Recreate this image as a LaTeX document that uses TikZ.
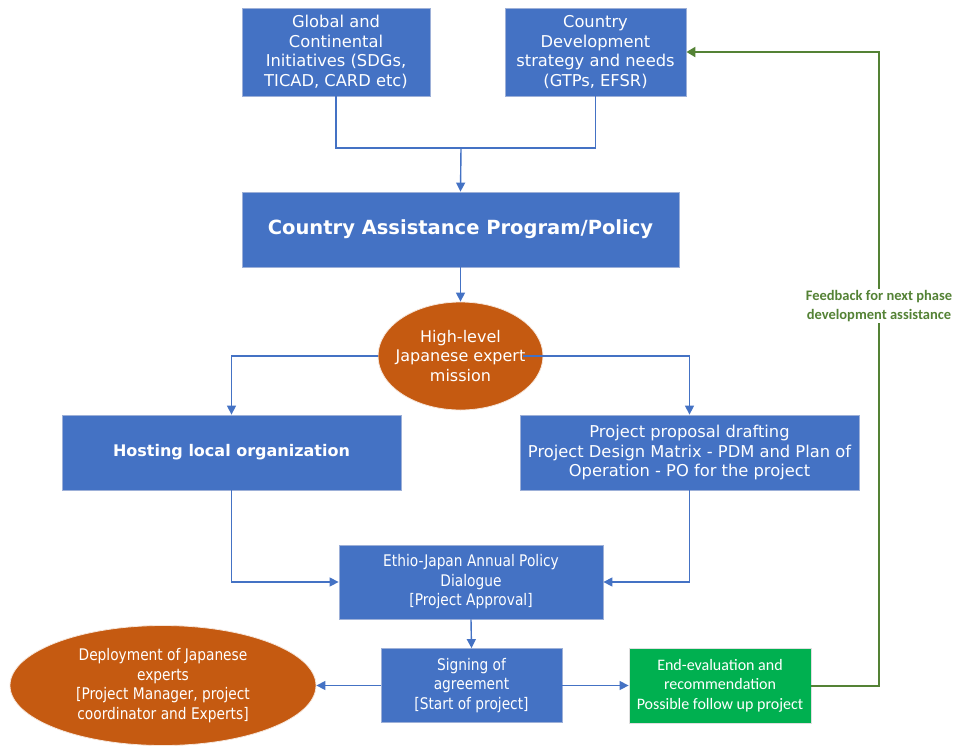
\documentclass[tikz,border=0pt]{standalone}
\usepackage{fontspec}
\usepackage{tikz}
\usetikzlibrary{shapes.geometric,arrows.meta}
\setmainfont{DejaVu Sans}
\newfontfamily\narrowfont{DejaVu Sans}[FakeStretch=0.86]
\newfontfamily\calfont{Carlito}
\definecolor{boxblue}{HTML}{4472C4}
\definecolor{boxedge}{HTML}{9DB0D8}
\definecolor{rust}{HTML}{C55A11}
\definecolor{evalgreen}{HTML}{00B050}
\definecolor{fbgreen}{HTML}{548235}
\tikzset{
  bluebox/.style={rectangle,fill=boxblue,draw=boxedge,line width=0.8pt,text=white,align=center,inner sep=2pt,
    font=\fontsize{16.3}{19.5}\selectfont},
  rustoval/.style={ellipse,fill=rust,draw=white!85!rust,line width=0.8pt,text=white,align=center,
    font=\narrowfont\fontsize{16}{19.5}\selectfont},
  link/.style={draw=boxblue,line width=1.4pt,-{Triangle[length=9pt,width=9pt]}},
  joint/.style={draw=boxblue,line width=1.4pt},
  feedback/.style={draw=fbgreen,line width=2pt,-{Triangle[length=9pt,width=10pt]}}
}
\begin{document}
\begin{tikzpicture}[x=1pt,y=-1pt]
        \useasboundingbox (0,0) rectangle (961,745);
        %inputs
        \node[bluebox,minimum width=188,minimum height=88] (global) at (336,52)
            {Global and\\Continental\\Initiatives (SDGs,\\TICAD, CARD etc)};
        \node[bluebox,minimum width=181,minimum height=88] (country) at (595.5,52)
            {Country\\Development\\strategy and needs\\(GTPs, EFSR)};
        \coordinate (merge) at (461,148);
        %program and mission
        \node[bluebox,minimum width=437,minimum height=75,font=\bfseries\fontsize{19.5}{22}\selectfont] (cap) at (460.5,229.5)
            {Country Assistance Program/Policy};
        \node[rustoval,minimum width=165,minimum height=108,inner xsep=-22pt,inner ysep=-2pt,
            font=\fontsize{16}{19.5}\selectfont] (mission) at (460.5,356)
            {High-level\\Japanese expert\\mission};
        \coordinate (split) at (523,356);
        %two branches
        \node[bluebox,minimum width=339,minimum height=75,font=\bfseries\fontsize{16}{19.5}\selectfont] (host) at (231.5,452.5)
            {Hosting local organization};
        \node[bluebox,minimum width=339,minimum height=75] (proposal) at (689.5,452.5)
            {Project proposal drafting\\Project Design Matrix - PDM and Plan of\\Operation - PO for the project};
        %approval and start
        \node[bluebox,minimum width=264,minimum height=74,font=\narrowfont\fontsize{16}{19.5}\selectfont] (dialogue) at (471,582)
            {Ethio-Japan Annual Policy\\Dialogue\\{[Project Approval]}};
        \node[bluebox,minimum width=181,minimum height=74,font=\narrowfont\fontsize{16}{19.5}\selectfont] (signing) at (471.5,685.5)
            {Signing of\\agreement\\{[Start of project]}};
        \node[rustoval,minimum width=306,minimum height=120] (deploy) at (163,685.5)
            {Deployment of Japanese\\experts\\{[Project Manager, project}\\coordinator and Experts]};
        \node[bluebox,fill=evalgreen,draw=white!75!gray,minimum width=182,minimum height=75,font=\calfont\fontsize{16}{19.5}\selectfont] (evaluation) at (720,685.5)
            {End-evaluation and\\recommendation\\Possible follow up project};
        \coordinate (turn) at (879,685.5);
        %connections
        \draw[joint] (global.south) |- (merge) -| (country.south);
        \draw[link] (merge) -- (cap.north);
        \draw[link] (cap.south) -- (mission.north);
        \draw[link] (mission.west) -| (host.north);
        \draw[link] (split) -| (proposal.north);
        \draw[link] (host.south) |- (dialogue.west);
        \draw[link] (proposal.south) |- (dialogue.east);
        \draw[link] (dialogue.south) -- (signing.north);
        \draw[link] (signing.west) -- (deploy.east);
        \draw[link] (signing.east) -- (evaluation.west);
        %feedback loop
        \draw[feedback] (evaluation.east) -- (turn) |- (country.east);
        \node[fill=white,text=fbgreen,align=center,inner sep=2pt,font=\calfont\bfseries\fontsize{14.5}{18.5}\selectfont] (fblabel) at (879,306)
            {Feedback for next phase\\development assistance};
    \end{tikzpicture}
\end{document}
